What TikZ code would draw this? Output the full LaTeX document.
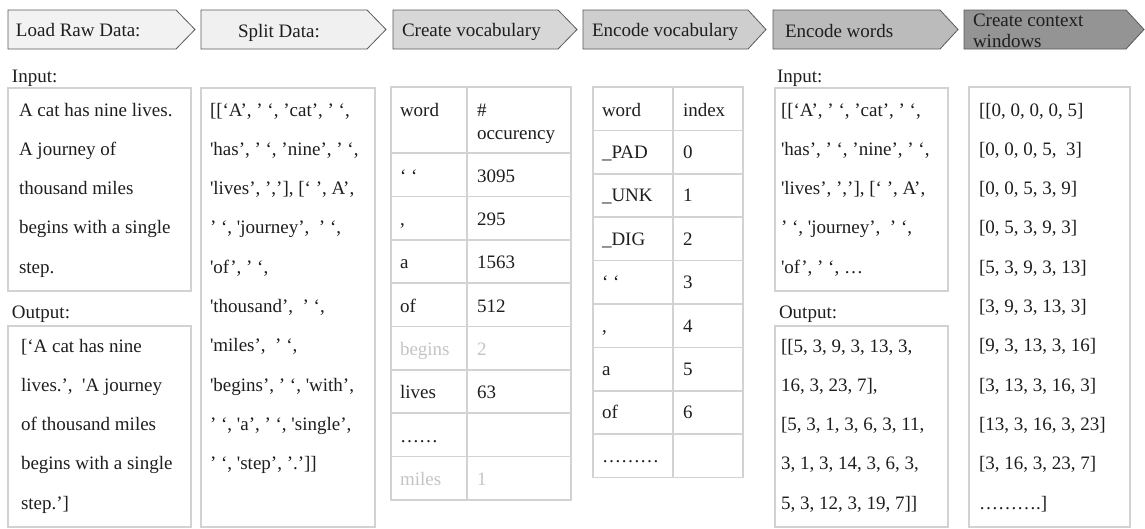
\documentclass[tikz,border=0pt]{standalone}
\usepackage{fontspec}
\setmainfont{Liberation Serif}[Ligatures=TeXOff]
\definecolor{ink}{HTML}{1E1E1E}
\definecolor{gridgray}{HTML}{D2D2D2}
\definecolor{fadetext}{HTML}{C4C4C4}
\definecolor{chevedge}{HTML}{5A5A5A}
\definecolor{stageA}{HTML}{F2F2F2}
\definecolor{stageB}{HTML}{F0F0F0}
\definecolor{stageC}{HTML}{D7D7D7}
\definecolor{stageD}{HTML}{CECECE}
\definecolor{stageE}{HTML}{BBBBBB}
\definecolor{stageF}{HTML}{949494}
\newcommand{\textlines}[2]{\begin{minipage}[t]{#1}\raggedright #2\end{minipage}}
\begin{document}
\begin{tikzpicture}[x=1pt,y=-1pt,
  every node/.style={inner sep=0pt, outer sep=0pt, text=ink,
    font=\fontsize{19}{39.3}\selectfont},
  lbl/.style={anchor=base west},
  faded/.style={lbl, text=fadetext},
  panel/.style={draw=gridgray, line width=1.6pt},
  chev/.style={draw=chevedge, line width=0.8pt},
]
\useasboundingbox (0,0) rectangle (1145,528);

% ---------- stage chevrons ----------
\draw[chev, fill=stageA] (8,10) -- (176,10) -- (195,29.5) -- (176,49) -- (8,49) -- cycle;
\draw[chev, fill=stageB] (201,10) -- (367,10) -- (386,29.5) -- (367,49) -- (201,49) -- cycle;
\draw[chev, fill=stageC] (393,10) -- (558,10) -- (577,29.5) -- (558,49) -- (393,49) -- cycle;
\draw[chev, fill=stageD] (583,10) -- (748,10) -- (766,29.5) -- (748,49) -- (583,49) -- cycle;
\draw[chev, fill=stageE] (773,10) -- (940,10) -- (958,29.5) -- (940,49) -- (773,49) -- cycle;
\draw[chev, fill=stageF] (964,10) -- (1126,10) -- (1144,29.5) -- (1126,49) -- (964,49) -- cycle;

\node[lbl] (s1) at (16,36) {Load Raw Data:};
\node[lbl] (s2) at (238,37) {Split Data:};
\node[lbl] (s3) at (402,36) {Create vocabulary};
\node[lbl] (s4) at (592,36) {Encode vocabulary};
\node[lbl] (s5) at (785,37) {Encode words};
\node[lbl] (s6) at (973,26) {\fontsize{19}{21}\selectfont\textlines{160pt}{Create context\\windows}};

% ---------- load raw data ----------
\node[lbl] (inlabA) at (12,82) {Input:};
\draw[panel] (8,88) rectangle (191,291);
\node[lbl] (rawin) at (19,116) {\textlines{200pt}{A cat has nine lives.\\A journey of\\thousand miles\\begins with a single\\step.}};
\node[lbl] (outlabA) at (12,318) {Output:};
\draw[panel] (8,326) rectangle (191,527);
\node[lbl] (rawout) at (21,352) {\textlines{200pt}{[‘A cat has nine\\lives.’, \ 'A journey\\of thousand miles\\begins with a single\\step.’]}};

% ---------- split data ----------
\draw[panel] (201,88) rectangle (375,527);
\node[lbl] (split) at (210,116) {\textlines{200pt}{[[‘A’, ’ ‘, ’cat’, ’ ‘,\\'has’, ’ ‘, ’nine’, ’ ‘,\\'lives’, ’,’], [‘ ’, A’,\\’ ‘, 'journey’, \ ’ ‘,\\'of’, ’ ‘,\\'thousand’, \ ’ ‘,\\'miles’, \ ’ ‘,\\'begins’, ’ ‘, 'with’,\\’ ‘, 'a’, ’ ‘, 'single’,\\’ ‘, 'step’, ’.’]]}};

% ---------- vocabulary counts table ----------
\draw[panel] (391,87) rectangle (571,500);
\draw[panel] (467,87) -- (467,500);
\foreach \k in {0,...,7}{
  \draw[panel] (391,153+43.375*\k) -- (571,153+43.375*\k);
}
\node[lbl] (vw0) at (400,116) {word};
\node[lbl] (vc0) at (477,116) {\#};
\node[lbl] (vc0b) at (477,139) {occurency};
\node[lbl] (vw1) at (400,182) {‘ ‘};      \node[lbl] (vc1) at (477,182) {3095};
\node[lbl] (vw2) at (400,225.4) {,};      \node[lbl] (vc2) at (477,225.4) {295};
\node[lbl] (vw3) at (400,268.8) {a};      \node[lbl] (vc3) at (477,268.8) {1563};
\node[lbl] (vw4) at (400,312.1) {of};     \node[lbl] (vc4) at (477,312.1) {512};
\node[faded] (vw5) at (400,355.5) {begins}; \node[faded] (vc5) at (477,355.5) {2};
\node[lbl] (vw6) at (400,398.9) {lives};  \node[lbl] (vc6) at (477,398.9) {63};
\node[lbl] (vw7) at (400,442.3) {……};
\node[faded] (vw8) at (400,485.6) {miles}; \node[faded] (vc8) at (477,485.6) {1};

% ---------- vocabulary index table ----------
\draw[panel] (593,87) rectangle (743,477.6);
\draw[panel] (673,87) -- (673,477.6);
\foreach \k in {1,...,8}{
  \draw[panel] (593,87+43.4*\k) -- (743,87+43.4*\k);
}
\node[lbl] (iw0) at (602,116) {word};    \node[lbl] (ix0) at (683,116) {index};
\node[lbl] (iw1) at (602,158.4) {\_PAD};  \node[lbl] (ix1) at (683,158.4) {0};
\node[lbl] (iw2) at (602,201.8) {\_UNK};  \node[lbl] (ix2) at (683,201.8) {1};
\node[lbl] (iw3) at (602,245.2) {\_DIG};  \node[lbl] (ix3) at (683,245.2) {2};
\node[lbl] (iw4) at (602,288.6) {‘ ‘};    \node[lbl] (ix4) at (683,288.6) {3};
\node[lbl] (iw5) at (602,332) {,};        \node[lbl] (ix5) at (683,332) {4};
\node[lbl] (iw6) at (602,375.4) {a};      \node[lbl] (ix6) at (683,375.4) {5};
\node[lbl] (iw7) at (602,418.8) {of};     \node[lbl] (ix7) at (683,418.8) {6};
\node[lbl] (iw8) at (602,462.2) {………};

% ---------- encode words ----------
\node[lbl] (inlabE) at (777,82) {Input:};
\draw[panel] (775,88) rectangle (948,291);
\node[lbl] (encin) at (781,116) {\textlines{200pt}{[[‘A’, ’ ‘, ’cat’, ’ ‘,\\'has’, ’ ‘, ’nine’, ’ ‘,\\'lives’, ’,’], [‘ ’, A’,\\’ ‘, 'journey’, \ ’ ‘,\\'of’, ’ ‘, …}};
\node[lbl] (outlabE) at (779,318) {Output:};
\draw[panel] (775,326) rectangle (948,527);
\node[lbl] (encout) at (781,352) {\textlines{200pt}{[[5, 3, 9, 3, 13, 3,\\16, 3, 23, 7],\\{}[5, 3, 1, 3, 6, 3, 11,\\3, 1, 3, 14, 3, 6, 3,\\5, 3, 12, 3, 19, 7]]}};

% ---------- context windows ----------
\draw[panel] (969,87) rectangle (1130,527);
\node[lbl] (ctx) at (979,116) {\textlines{200pt}{[[0, 0, 0, 0, 5]\\{}[0, 0, 0, 5, \ 3]\\{}[0, 0, 5, 3, 9]\\{}[0, 5, 3, 9, 3]\\{}[5, 3, 9, 3, 13]\\{}[3, 9, 3, 13, 3]\\{}[9, 3, 13, 3, 16]\\{}[3, 13, 3, 16, 3]\\{}[13, 3, 16, 3, 23]\\{}[3, 16, 3, 23, 7]\\……….]}};
\end{tikzpicture}
\end{document}
